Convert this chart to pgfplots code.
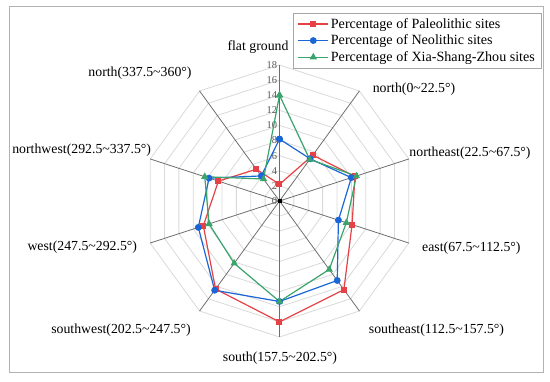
\documentclass[border=0pt]{standalone}
\usepackage{fontspec}
\setmainfont{Liberation Serif}
\usepackage{pgfplots}
\pgfplotsset{compat=1.18}
\definecolor{cred}{RGB}{228,66,70}
\definecolor{cblue}{RGB}{26,102,214}
\definecolor{cgreen}{RGB}{58,164,108}
\definecolor{gridgray}{RGB}{217,217,217}
\definecolor{spokegray}{RGB}{110,110,110}
\definecolor{tickgray}{RGB}{89,89,89}
\newcommand{\lab}{\fontsize{13.8}{16}\selectfont}
\newcommand{\leg}{\fontsize{14.1}{16}\selectfont}
\begin{document}
\begin{tikzpicture}
\begin{axis}[
  hide axis,
  x=7.5556pt, y=7.5556pt,
  xmin=-18, xmax=18, ymin=-18, ymax=18,
  clip=false,
  legend style={at={(axis cs:1.787,24.88)}, anchor=north west, draw=gray!70,
    font=\leg, inner xsep=4.5pt, inner ysep=3pt, row sep=1.2pt,
    cells={anchor=west}},
  legend image code/.code={\draw[mark repeat=2,mark phase=2] plot coordinates {(0pt,0pt) (15pt,0pt) (30pt,0pt)};},
]
\coordinate (O) at (axis cs:0,0);
% grid rings
\pgfplotsinvokeforeach{2,4,6,8,10,12,14,16,18}{
  \draw[gridgray, line width=0.8pt]
    (axis cs:{#1*cos(90)},{#1*sin(90)}) -- (axis cs:{#1*cos(54)},{#1*sin(54)}) --
    (axis cs:{#1*cos(18)},{#1*sin(18)}) -- (axis cs:{#1*cos(-18)},{#1*sin(-18)}) --
    (axis cs:{#1*cos(-54)},{#1*sin(-54)}) -- (axis cs:{#1*cos(-90)},{#1*sin(-90)}) --
    (axis cs:{#1*cos(-126)},{#1*sin(-126)}) -- (axis cs:{#1*cos(-162)},{#1*sin(-162)}) --
    (axis cs:{#1*cos(162)},{#1*sin(162)}) -- (axis cs:{#1*cos(126)},{#1*sin(126)}) -- cycle;
}
% spokes
\pgfplotsinvokeforeach{90,54,18,-18,-54,-90,-126,-162,162,126}{
  \draw[spokegray, line width=0.8pt] (axis cs:0,0) -- (axis cs:{18*cos(#1)},{18*sin(#1)});
}
% tick labels
\pgfplotsinvokeforeach{0,2,4,6,8,10,12,14,16,18}{
  \node[anchor=east, inner sep=0pt, font=\fontsize{10.5}{10.5}\selectfont, text=tickgray] at (axis cs:-0.3,#1) {#1};
}
\addplot[cred, line width=1.2pt, mark=square*, mark size=2.4pt, data cs=polar]
  coordinates {(90,2.2) (54,7.5) (18,10.5) (-18,10.1) (-54,14.5) (-90,16.0) (-126,14.4) (-162,10.6) (162,8.5) (126,5.2) (90,2.2)};
\addlegendentry{Percentage of Paleolithic sites}
\addplot[cblue, line width=1.2pt, mark=*, mark size=2.8pt, data cs=polar]
  coordinates {(90,8.2) (54,6.9) (18,10.0) (-18,8.2) (-54,13.0) (-90,13.3) (-126,14.6) (-162,11.3) (162,9.8) (126,4.1) (90,8.2)};
\addlegendentry{Percentage of Neolithic sites}
\addplot[cgreen, line width=1.2pt, mark=triangle*, mark size=3.1pt, data cs=polar]
  coordinates {(90,14.0) (54,6.8) (18,10.7) (-18,9.3) (-54,11.2) (-90,13.3) (-126,10.2) (-162,9.8) (162,10.4) (126,3.6) (90,14.0)};
\addlegendentry{Percentage of Xia-Shang-Zhou sites}
\addplot[black, only marks, mark=square*, mark size=1.3pt, forget plot] coordinates {(0,0)};
\end{axis}
% category labels
\node[font=\lab] at ([shift={(-21.5pt,154.3pt)}]O) {flat ground};
\node[font=\lab] at ([shift={(134.5pt,112pt)}]O) {north(0\textasciitilde22.5°)};
\node[font=\lab] at ([shift={(190.5pt,48pt)}]O) {northeast(22.5\textasciitilde67.5°)};
\node[font=\lab] at ([shift={(191.9pt,-46.7pt)}]O) {east(67.5\textasciitilde112.5°)};
\node[font=\lab] at ([shift={(157pt,-129pt)}]O) {southeast(112.5\textasciitilde157.5°)};
\node[font=\lab] at ([shift={(0.5pt,-157pt)}]O) {south(157.5\textasciitilde202.5°)};
\node[font=\lab] at ([shift={(-158.5pt,-129pt)}]O) {southwest(202.5\textasciitilde247.5°)};
\node[font=\lab] at ([shift={(-197.2pt,-45.7pt)}]O) {west(247.5\textasciitilde292.5°)};
\node[font=\lab] at ([shift={(-197.8pt,51pt)}]O) {northwest(292.5\textasciitilde337.5°)};
\node[font=\lab] at ([shift={(-139.5pt,128.3pt)}]O) {north(337.5\textasciitilde360°)};
% outer frame and bounding box
\draw[gray!60, line width=0.8pt] ([shift={(-270.5pt,195pt)}]O) rectangle ([shift={(263.5pt,-171pt)}]O);
\path ([shift={(-279.5pt,201pt)}]O) rectangle ([shift={(270.5pt,-180pt)}]O);
\end{tikzpicture}
\end{document}
